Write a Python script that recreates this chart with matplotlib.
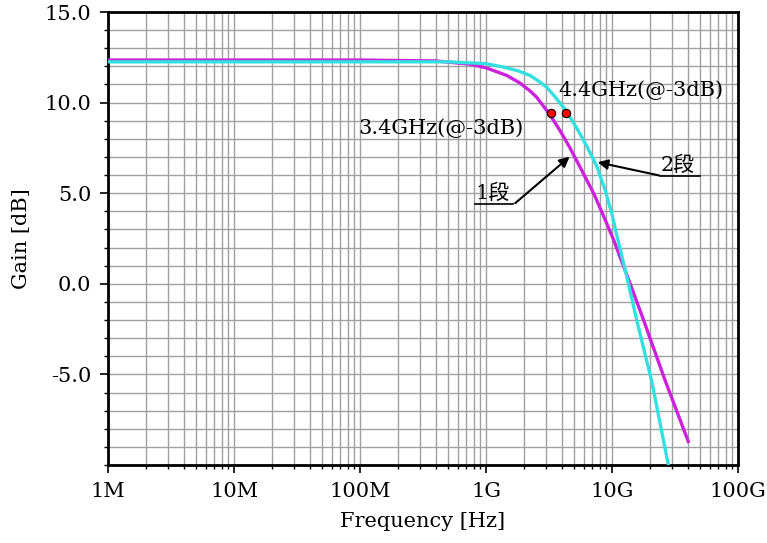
import matplotlib.pyplot as plt
import numpy as np
from matplotlib.ticker import FixedLocator, FixedFormatter, LogLocator, NullFormatter

plt.rcParams['font.family'] = ['DejaVu Serif', 'Noto Sans CJK JP']

# 1段 (magenta)
freq_1 = [1e6, 1e8, 4e8, 7.5e8, 1.0e9, 1.46e9, 1.86e9, 2.23e9, 2.52e9, 3.22e9,
          3.87e9, 4.64e9, 5.57e9, 7.2e9, 8.5e9, 10.2e9, 13.1e9, 17.7e9, 26.3e9, 40.3e9]
gain_1 = [12.35, 12.35, 12.3, 12.12, 11.92, 11.5, 11.08, 10.65, 10.3, 9.33,
          8.45, 7.5, 6.45, 4.95, 3.8, 2.5, 0.5, -1.95, -5.3, -8.7]

# 2段 (cyan)
freq_2 = [1e6, 5e8, 1.0e9, 1.4e9, 1.8e9, 2.23e9, 2.6e9, 3.03e9, 3.5e9, 4.11e9,
          4.4e9, 5.25e9, 6.3e9, 7.56e9, 8.8e9, 9.94e9, 10.9e9, 13.0e9, 15.7e9,
          20.7e9, 28e9]
gain_2 = [12.25, 12.25, 12.15, 11.95, 11.75, 11.5, 11.2, 10.85, 10.35, 9.75,
          9.45, 8.6, 7.6, 6.5, 5.2, 3.9, 2.7, 0.5, -2.0,
          -5.4, -10.0]

f3db = [3.3e9, 4.3e9]
g3db = [9.4, 9.4]

y_ticks = [-5, 0, 5, 10, 15]
y_labels = ['-5.0', '0.0', '5.0', '10.0', '15.0']
x_ticks = [1e6, 1e7, 1e8, 1e9, 1e10, 1e11]
x_labels = ['1M', '10M', '100M', '1G', '10G', '100G']

fig = plt.figure(figsize=(7.67, 5.43), dpi=100)
ax = fig.add_axes([0.1408, 0.1436, 0.8214, 0.8343])

ax.plot(freq_1, gain_1, color='#cc22dd', lw=2.4, zorder=3)
ax.plot(freq_2, gain_2, color='#33e0e0', lw=2.4, zorder=3)
ax.plot(f3db, g3db, 'o', color='red', mec='black', mew=0.8, ms=6, zorder=5)

ax.set_xscale('log')
ax.set_xlim(1e6, 1e11)
ax.set_ylim(-10, 15)

ax.xaxis.set_major_locator(FixedLocator(x_ticks))
ax.xaxis.set_major_formatter(FixedFormatter(x_labels))
ax.xaxis.set_minor_locator(LogLocator(base=10, subs=np.arange(2, 10)))
ax.xaxis.set_minor_formatter(NullFormatter())
ax.yaxis.set_major_locator(FixedLocator(y_ticks))
ax.yaxis.set_major_formatter(FixedFormatter(y_labels))
ax.yaxis.set_minor_locator(FixedLocator(np.arange(-10, 16, 1)))

ax.grid(which='both', color='#a0a0a0', lw=1.0)
ax.set_axisbelow(True)
for s in ax.spines.values():
    s.set_linewidth(2)
ax.tick_params(which='major', direction='out', length=6, width=1.2, labelsize=15, pad=6)
ax.tick_params(which='minor', direction='out', length=3, width=1)

ax.set_xlabel('Frequency [Hz]', fontsize=15, labelpad=8)
ax.set_ylabel('Gain [dB]', fontsize=15, labelpad=10)

ax.text(3.73e9, 10.7, '4.4GHz(@-3dB)', fontsize=15, va='center', ha='left')
ax.text(9.64e7, 8.6, '3.4GHz(@-3dB)', fontsize=15, va='center', ha='left')

ax.text(8.2e8, 4.45, '1段', fontsize=15, va='bottom', ha='left')
ax.plot([8.2e8, 1.64e9], [4.4, 4.4], color='black', lw=1.2)
ax.annotate('', xy=(4.79e9, 7.11), xytext=(1.64e9, 4.35),
            arrowprops=dict(arrowstyle='-|>', color='black', lw=1.5, mutation_scale=15))

ax.text(2.42e10, 6.0, '2段', fontsize=15, va='bottom', ha='left')
ax.plot([2.40e10, 4.99e10], [5.95, 5.95], color='black', lw=1.2)
ax.annotate('', xy=(7.33e9, 6.74), xytext=(2.48e10, 5.95),
            arrowprops=dict(arrowstyle='-|>', color='black', lw=1.5, mutation_scale=15))

fig.savefig('out.png', dpi=100)
